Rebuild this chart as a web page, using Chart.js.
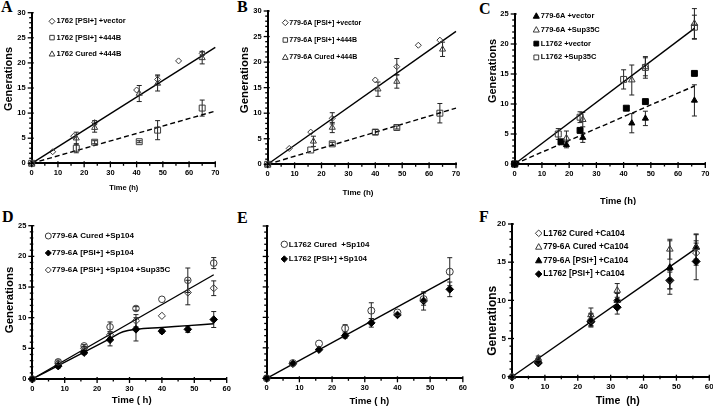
<!DOCTYPE html>
<html>
<head>
<meta charset="utf-8">
<script src="https://cdn.jsdelivr.net/npm/chart.js@4.4.1/dist/chart.umd.min.js"></script>
<style>
html, body { margin: 0; padding: 0; background: #fff; overflow: hidden; }
body { width: 713px; height: 408px; position: relative; }
canvas { position: absolute; }
.tag { position: absolute; font-family: "Liberation Serif", "Times New Roman", serif; font-weight: bold; font-size: 16px; line-height: 1; color: #000; }
</style>
</head>
<body>
<div class="tag" style="left:1px;top:-1px">A</div>
<div class="tag" style="left:237px;top:-1px">B</div>
<div class="tag" style="left:479px;top:1px">C</div>
<div class="tag" style="left:2px;top:209px">D</div>
<div class="tag" style="left:237px;top:210px">E</div>
<div class="tag" style="left:479px;top:209px">F</div>

<canvas id="chartA" width="236" height="200" style="left:0;top:0"></canvas>
<canvas id="chartB" width="236" height="200" style="left:236px;top:0"></canvas>
<canvas id="chartC" width="250" height="205" style="left:472px;top:0"></canvas>
<canvas id="chartD" width="236" height="203" style="left:0;top:205px"></canvas>
<canvas id="chartE" width="236" height="203" style="left:236px;top:205px"></canvas>
<canvas id="chartF" width="250" height="203" style="left:472px;top:205px"></canvas>

<script>
// ---- Panel A: 1762 strain, 444B ----
const aTimeVec = [0, 8, 16, 24, 40, 48, 56, 65];
const aGenVec  = [0, 2.3, 5.4, 8.1, 14.6, 16.7, 20.4, 21.9];
const aErrVec  = [0, 0, 0, 0.4, 0, 0.9, 0, 0.4];
const aTimePsi = [0, 17, 24, 41, 48, 65];
const aGenPsi  = [0, 3.0, 4.2, 4.3, 6.6, 11.0];
const aErrPsi  = [0, 0.9, 0.3, 0.2, 1.9, 1.6];
const aTimeCur = [0, 17, 24, 41, 48, 65];
const aGenCur  = [0, 5.0, 7.1, 13.9, 15.9, 21.0];
const aErrCur  = [0, 1.2, 0.9, 1.6, 1.5, 1.2];
const aFitTime = [0, 70];
const aFitSolid = [0, 23.1];
const aFitDash  = [0, 10.4];

// ---- Panel B: 779-6A, 444B ----
const bTimeVec = [0, 8, 16, 24, 40, 48, 56, 64];
const bGenVec  = [0, 3.1, 6.3, 9.0, 16.5, 19.1, 23.3, 24.3];
const bErrVec  = [0, 0, 0, 1.1, 0, 1.6, 0, 0];
const bTimePsi = [0, 16, 24, 40, 48, 64];
const bGenPsi  = [0, 2.8, 4.0, 6.3, 7.2, 10.0];
const bErrPsi  = [0, 0, 0.3, 0.5, 0.3, 1.9];
const bTimeCur = [0, 17, 24, 41, 48, 65];
const bGenCur  = [0, 4.5, 7.2, 14.7, 16.2, 22.5];
const bErrCur  = [0, 1.0, 1.0, 1.4, 1.3, 1.4];
const bFitTime = [0, 70];
const bFitSolid = [0, 26.0];
const bFitDash  = [0, 11.0];

// ---- Panel C: Sup35C ----
const cTime6A   = [0, 19, 25, 43, 48, 66];
const cGen6AVec = [0, 3.2, 4.4, 6.8, 7.6, 10.6];
const cErr6AVec = [0, 0.5, 0.8, 1.6, 1.2, 2.6];
const cGen6ASup = [0, 4.3, 7.4, 14.0, 16.2, 23.4];
const cErr6ASup = [0, 1.2, 1.2, 2.5, 1.5, 2.5];
const cTimeLVec = [0, 17, 24, 41, 48, 66];
const cGenLVec  = [0, 3.7, 5.6, 9.3, 10.4, 15.1];
const cTimeLSup = [0, 16, 24, 40, 48, 66];
const cGenLSup  = [0, 5.0, 7.8, 14.1, 16.1, 22.8];
const cErrLSup  = [0, 0.9, 0.9, 1.6, 1.8, 2.0];
const cFitTime  = [0, 66];
const cFitSolid = [0, 22.6];
const cFitDash  = [0, 13.0];

// ---- Panel D: 779-6A, Sp104 ----
const dTime    = [0, 8, 16, 24, 32, 40, 48, 56];
const dGenCur  = [0, 2.8, 5.4, 8.5, 11.5, 13.0, 16.1, 18.9];
const dErrCur  = [0, 0.3, 0.2, 0.8, 0.3, 0, 2.0, 0.9];
const dGenPsi  = [0, 2.1, 4.3, 6.4, 8.1, 7.8, 8.1, 9.7];
const dErrPsi  = [0, 0.3, 0.3, 1.0, 1.9, 0.3, 0.5, 1.3];
const dGenSup  = [0, 2.5, 5.0, 7.2, 9.5, 10.3, 14.1, 14.8];
const dErrSup  = [0, 0.3, 0.3, 0.5, 1.0, 0, 2.0, 1.2];
const dFitTime = [0, 56];
const dFitGen  = [0, 17.0];
const dCurveTime = [0, 8, 16, 24, 28, 32, 40, 48, 56];
const dCurveGen  = [0, 2.2, 4.4, 6.6, 7.7, 8.1, 8.4, 8.7, 9.0];

// ---- Panel E: L1762, Sp104 ----
const eTime    = [0, 8, 16, 24, 32, 40, 48, 56];
const eGenCur  = [0, 2.5, 5.7, 8.2, 11.1, 10.8, 13.0, 17.5];
const eErrCur  = [0, 0, 0, 0.6, 1.3, 0, 1.0, 2.3];
const eGenPsi  = [0, 2.4, 4.7, 7.0, 9.1, 10.4, 12.7, 14.6];
const eErrPsi  = [0, 0, 0, 0.4, 0.7, 0, 1.5, 1.2];
const eFitTime = [0, 56];
const eFitGen  = [0, 16.4];

// ---- Panel F: Ca104 ----
const fTime     = [0, 8, 24, 32, 48, 56];
const fGenLCur  = [0, 2.0, 7.4, 10.0, 12.7, 16.2];
const fErrLCur  = [0, 0.4, 0.8, 0.9, 1.2, 1.6];
const fGen6ACur = [0, 2.4, 8.1, 11.3, 16.7, 16.9];
const fErr6ACur = [0, 0.3, 0.9, 0.9, 1.3, 1.8];
const fGen6APsi = [0, 2.1, 7.5, 10.0, 14.3, 17.0];
const fErr6APsi = [0, 0.3, 0.8, 1.0, 3.5, 1.6];
const fGenLPsi  = [0, 1.8, 7.2, 9.1, 12.6, 15.1];
const fErrLPsi  = [0, 0.2, 0.7, 0.9, 1.1, 2.4];
const fFitTime  = [0, 56];
const fFitGen   = [0, 16.8];

const FONT = 'Arial, "Liberation Sans", Helvetica, sans-serif';
Chart.defaults.font.family = FONT;
Chart.defaults.font.weight = 'bold';
Chart.defaults.color = '#000';

function pts(t, g, e) {
    return t.map((x, i) => ({ x: x, y: g[i], err: e ? e[i] : 0 }));
}

// open = hollow marker, filled = solid black
function series(label, t, g, e, shape, filled, r) {
    return {
        label: label,
        data: pts(t, g, e),
        showLine: false,
        pointStyle: shape,
        pointRadius: r || 3.5,
        pointHoverRadius: r || 3.5,
        pointBorderWidth: 1,
        pointBorderColor: filled ? '#000' : '#3a3a3a',
        pointBackgroundColor: filled ? '#000' : 'rgba(255,255,255,0)',
        borderColor: '#333',
        clip: false,
        order: 1
    };
}

function fitLine(t, g, dashed, tension) {
    return {
        label: '',
        fit: true,
        data: pts(t, g),
        showLine: true,
        pointRadius: 0,
        borderColor: '#000',
        borderWidth: 1.4,
        borderDash: dashed ? [5, 3] : [],
        tension: tension || 0,
        clip: false,
        order: 2
    };
}

function drawMarker(ctx, shape, x, y, r, fill, stroke) {
    ctx.beginPath();
    if (shape === 'circle') {
        ctx.arc(x, y, r, 0, Math.PI * 2);
    } else if (shape === 'rect') {
        const s = r * 0.75;
        ctx.rect(x - s, y - s, 2 * s, 2 * s);
    } else if (shape === 'rectRot') {
        ctx.moveTo(x, y - r); ctx.lineTo(x + r, y); ctx.lineTo(x, y + r); ctx.lineTo(x - r, y); ctx.closePath();
    } else if (shape === 'triangle') {
        ctx.moveTo(x, y - r); ctx.lineTo(x + r * 0.95, y + r * 0.7); ctx.lineTo(x - r * 0.95, y + r * 0.7); ctx.closePath();
    }
    ctx.fillStyle = fill;
    ctx.fill();
    ctx.strokeStyle = stroke;
    ctx.lineWidth = 1;
    ctx.stroke();
}

// vertical error bars with caps, drawn under the markers
const errorBars = {
    id: 'errorBars',
    beforeDatasetsDraw(chart) {
        const ctx = chart.ctx, xs = chart.scales.x, ys = chart.scales.y;
        ctx.save();
        ctx.strokeStyle = '#222';
        ctx.lineWidth = 1;
        chart.data.datasets.forEach(ds => {
            if (ds.fit) return;
            ds.data.forEach(p => {
                if (!p.err) return;
                const px = xs.getPixelForValue(p.x);
                const top = ys.getPixelForValue(p.y + p.err);
                const bot = ys.getPixelForValue(p.y - p.err);
                ctx.beginPath();
                ctx.moveTo(px, top); ctx.lineTo(px, bot);
                ctx.moveTo(px - 2.5, top); ctx.lineTo(px + 2.5, top);
                ctx.moveTo(px - 2.5, bot); ctx.lineTo(px + 2.5, bot);
                ctx.stroke();
            });
        });
        ctx.restore();
    }
};

// major + minor tick marks crossing the axes
const axisTicks = {
    id: 'axisTicks',
    afterDraw(chart, args, opts) {
        const ctx = chart.ctx, a = chart.chartArea, xs = chart.scales.x, ys = chart.scales.y;
        const xMaj = xs.options.ticks.stepSize, yMaj = ys.options.ticks.stepSize;
        ctx.save();
        ctx.strokeStyle = '#000';
        ctx.lineWidth = 1.3;
        for (let v = xs.min; v <= xs.max + 1e-6; v += opts.minorX) {
            const major = Math.abs(v / xMaj - Math.round(v / xMaj)) < 1e-6;
            const px = xs.getPixelForValue(v);
            ctx.beginPath();
            ctx.moveTo(px, a.bottom - (major ? 2 : 1));
            ctx.lineTo(px, a.bottom + (major ? 4 : 2.5));
            ctx.stroke();
        }
        for (let v = ys.min; v <= ys.max + 1e-6; v += opts.minorY) {
            const major = Math.abs(v / yMaj - Math.round(v / yMaj)) < 1e-6;
            const py = ys.getPixelForValue(v);
            ctx.beginPath();
            ctx.moveTo(a.left - (major ? 4 : 2.5), py);
            ctx.lineTo(a.left + (major ? 2 : 1), py);
            ctx.stroke();
        }
        ctx.restore();
    }
};

// legend sitting inside the plot, top left
const insideLegend = {
    id: 'insideLegend',
    afterDraw(chart, args, o) {
        const ctx = chart.ctx;
        ctx.save();
        ctx.font = 'bold ' + o.size + 'px ' + FONT;
        ctx.textBaseline = 'middle';
        chart.data.datasets.filter(d => !d.fit).forEach((d, i) => {
            const yy = o.y + i * o.dy;
            drawMarker(ctx, d.pointStyle, o.x, yy, o.r, d.pointBackgroundColor, d.pointBorderColor);
            ctx.fillStyle = '#000';
            ctx.fillText(d.label, o.x + o.gap, yy);
        });
        ctx.restore();
    }
};

// axis titles placed freely
const axisTitles = {
    id: 'axisTitles',
    afterDraw(chart, args, o) {
        const ctx = chart.ctx;
        ctx.save();
        ctx.fillStyle = '#000';
        ctx.textAlign = 'center';
        ctx.textBaseline = 'middle';
        if (o.x) {
            ctx.font = 'bold ' + o.x.size + 'px ' + FONT;
            ctx.fillText(o.x.text, o.x.cx, o.x.cy);
        }
        if (o.y) {
            ctx.translate(o.y.cx, o.y.cy);
            ctx.rotate(-Math.PI / 2);
            ctx.font = 'bold ' + o.y.size + 'px ' + FONT;
            ctx.fillText(o.y.text, 0, 0);
        }
        ctx.restore();
    }
};

function makePanel(p) {
    const cv = document.getElementById(p.id);
    const W = cv.width, H = cv.height;
    const [l, t, r, b] = p.area;
    return new Chart(cv.getContext('2d'), {
        type: 'scatter',
        data: { datasets: p.datasets },
        options: {
            responsive: false,
            animation: false,
            layout: { padding: { left: 0, top: t, right: W - r, bottom: 0 } },
            scales: {
                x: {
                    type: 'linear', min: 0, max: p.xMax,
                    grid: { display: false, drawTicks: false },
                    border: { display: true, color: '#000', width: 2 },
                    ticks: { stepSize: 10, padding: 5, maxRotation: 0, font: { size: p.tickSize, weight: 'bold' } },
                    afterFit: s => { s.height = H - b; }
                },
                y: {
                    min: 0, max: p.yMax,
                    grid: { display: false, drawTicks: false },
                    border: { display: true, color: '#000', width: 2 },
                    ticks: { stepSize: 5, padding: 6, display: p.yLabels !== false, font: { size: p.tickSize, weight: 'bold' } },
                    afterFit: s => { s.width = l; }
                }
            },
            plugins: {
                legend: { display: false },
                tooltip: { enabled: false },
                axisTicks: { minorX: 5, minorY: 1 },
                insideLegend: p.legend,
                axisTitles: p.titles
            }
        },
        plugins: [errorBars, axisTicks, insideLegend, axisTitles]
    });
}

makePanel({
    id: 'chartA', area: [31.7, 12.7, 215.3, 163.3], xMax: 70, yMax: 30, tickSize: 7.5,
    legend: { x: 52, y: 21.3, dy: 16.3, r: 3, gap: 4.5, size: 7.5 },
    titles: { x: { text: 'Time (h)', cx: 123.7, cy: 188, size: 7.5 }, y: { text: 'Generations', cx: 8.5, cy: 79, size: 11 } },
    datasets: [
        series('1762 [PSI+] +vector', aTimeVec, aGenVec, aErrVec, 'rectRot', false, 3),
        series('1762 [PSI+] +444B', aTimePsi, aGenPsi, aErrPsi, 'rect', false, 4.2),
        series('1762 Cured +444B', aTimeCur, aGenCur, aErrCur, 'triangle', false, 3.5),
        fitLine(aFitTime, aFitSolid, false),
        fitLine(aFitTime, aFitDash, true)
    ]
});

makePanel({
    id: 'chartB', area: [31.7, 11, 220, 164.3], xMax: 70, yMax: 30, tickSize: 7.5,
    legend: { x: 49.3, y: 22.7, dy: 17.3, r: 3, gap: 4, size: 7 },
    titles: { x: { text: 'Time (h)', cx: 122, cy: 192.3, size: 8 }, y: { text: 'Generations', cx: 9, cy: 80, size: 11.4 } },
    datasets: [
        series('779-6A [PSI+] +vector', bTimeVec, bGenVec, bErrVec, 'rectRot', false, 3),
        series('779-6A [PSI+] +444B', bTimePsi, bGenPsi, bErrPsi, 'rect', false, 4.2),
        series('779-6A Cured +444B', bTimeCur, bGenCur, bErrCur, 'triangle', false, 3.5),
        fitLine(bFitTime, bFitSolid, false),
        fitLine(bFitTime, bFitDash, true)
    ]
});

makePanel({
    id: 'chartC', area: [42.7, 14, 233.3, 164], xMax: 70, yMax: 25, tickSize: 7.5,
    legend: { x: 64.3, y: 16, dy: 13.8, r: 3.2, gap: 4.5, size: 7.5 },
    titles: { x: { text: 'Time (h)', cx: 146, cy: 201, size: 9.3 }, y: { text: 'Generations', cx: 21, cy: 71, size: 11 } },
    datasets: [
        series('779-6A +vector', cTime6A, cGen6AVec, cErr6AVec, 'triangle', true, 3.5),
        series('779-6A +Sup35C', cTime6A, cGen6ASup, cErr6ASup, 'triangle', false, 3.8),
        series('L1762 +vector', cTimeLVec, cGenLVec, null, 'rect', true, 4.2),
        series('L1762 +Sup35C', cTimeLSup, cGenLSup, cErrLSup, 'rect', false, 4.2),
        fitLine(cFitTime, cFitSolid, false),
        fitLine(cFitTime, cFitDash, true)
    ]
});

makePanel({
    id: 'chartD', area: [32.3, 20.7, 226.7, 174], xMax: 60, yMax: 25, tickSize: 7.5,
    legend: { x: 48.3, y: 31, dy: 17, r: 3, gap: 3.5, size: 8 },
    titles: { x: { text: 'Time ( h)', cx: 131.7, cy: 195, size: 9.6 }, y: { text: 'Generations', cx: 10, cy: 95, size: 11.4 } },
    datasets: [
        series('779-6A Cured +Sp104', dTime, dGenCur, dErrCur, 'circle', false, 3.3),
        series('779-6A [PSI+] +Sp104', dTime, dGenPsi, dErrPsi, 'rectRot', true, 3.8),
        series('779-6A [PSI+] +Sp104 +Sup35C', dTime, dGenSup, dErrSup, 'rectRot', false, 3.6),
        fitLine(dFitTime, dFitGen, false),
        fitLine(dCurveTime, dCurveGen, false, 0.4)
    ]
});

makePanel({
    id: 'chartE', area: [30.7, 21, 227.7, 173.3], xMax: 60, yMax: 25, tickSize: 7.5, yLabels: false,
    legend: { x: 48.3, y: 39.3, dy: 14.7, r: 3.2, gap: 4.5, size: 8 },
    titles: { x: { text: 'Time ( h)', cx: 133.3, cy: 196.7, size: 9.6 } },
    datasets: [
        series('L1762 Cured  +Sp104', eTime, eGenCur, eErrCur, 'circle', false, 3.5),
        series('L1762 [PSI+] +Sp104', eTime, eGenPsi, eErrPsi, 'rectRot', true, 3.8),
        fitLine(eFitTime, eFitGen, false)
    ]
});

makePanel({
    id: 'chartF', area: [40, 19, 237.3, 171.7], xMax: 60, yMax: 20, tickSize: 8,
    legend: { x: 66.7, y: 28.3, dy: 13.6, r: 3.3, gap: 4.5, size: 8.3 },
    titles: { x: { text: 'Time  (h)', cx: 145.8, cy: 196, size: 10.6 }, y: { text: 'Generations', cx: 20.7, cy: 115.8, size: 12 } },
    datasets: [
        series('L1762 Cured +Ca104', fTime, fGenLCur, fErrLCur, 'rectRot', false, 3.6),
        series('779-6A Cured +Ca104', fTime, fGen6ACur, fErr6ACur, 'triangle', false, 3.8),
        series('779-6A [PSI+] +Ca104', fTime, fGen6APsi, fErr6APsi, 'triangle', true, 3.8),
        series('L1762 [PSI+] +Ca104', fTime, fGenLPsi, fErrLPsi, 'rectRot', true, 4),
        fitLine(fFitTime, fFitGen, false)
    ]
});
</script>
</body>
</html>
